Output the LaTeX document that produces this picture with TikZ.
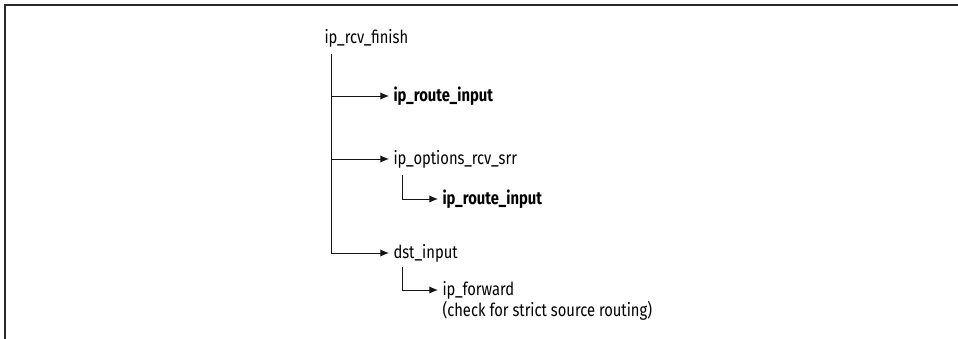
\documentclass[tikz,border=0pt]{standalone}
\usepackage{fontspec}
\setmainfont{Fira Sans}[FakeStretch=0.82]
\usetikzlibrary{arrows.meta}

\tikzset{every picture/.style={line width=0.75pt}}
\tikzset{
  fn/.style={anchor=west,inner sep=3pt,font=\fontsize{13.5}{16}\selectfont},
  fnbold/.style={fn,font=\fontsize{13.5}{16}\selectfont\bfseries},
  call/.style={-{Latex[length=6.5pt,width=5.5pt]},color={rgb, 255:red, 20; green, 20; blue, 20}}
}

\begin{document}
\begin{tikzpicture}[x=0.75pt,y=0.75pt,yscale=-1,xscale=1]
\useasboundingbox (0,0) rectangle (958,339);

%Frame
\draw [line width=1.5pt,color={rgb, 255:red, 40; green, 40; blue, 40}] (5,339) -- (5,5) -- (958,5) ;

% Text Node
\node [fn] (finish) at (320,38) {ip\_rcv\_finish};
% Text Node
\node [fnbold] (route1) at (389,96) {ip\_route\_input};
% Text Node
\node [fn] (opts) at (389,159) {ip\_options\_rcv\_srr};
% Text Node
\node [fnbold] (route2) at (438,199) {ip\_route\_input};
% Text Node
\node [fn] (dst) at (389,253) {dst\_input};
% Text Node
\node [fn] (fwd) at (438,290) {ip\_forward};
% Text Node
\node [fn] (note) at ([yshift=15.75pt]fwd.west) {(check for strict source routing)};

%Elbow points
\coordinate (trunk) at (331,54);
\coordinate (optsdown) at (402,175);
\coordinate (dstdown) at (402,267);

%Connectors
\draw [call] (trunk) |- (dst) ;
\draw [call] (trunk |- route1) -- (route1) ;
\draw [call] (trunk |- opts) -- (opts) ;
\draw [call] (optsdown) |- (route2) ;
\draw [call] (dstdown) |- (fwd) ;

\end{tikzpicture}
\end{document}
